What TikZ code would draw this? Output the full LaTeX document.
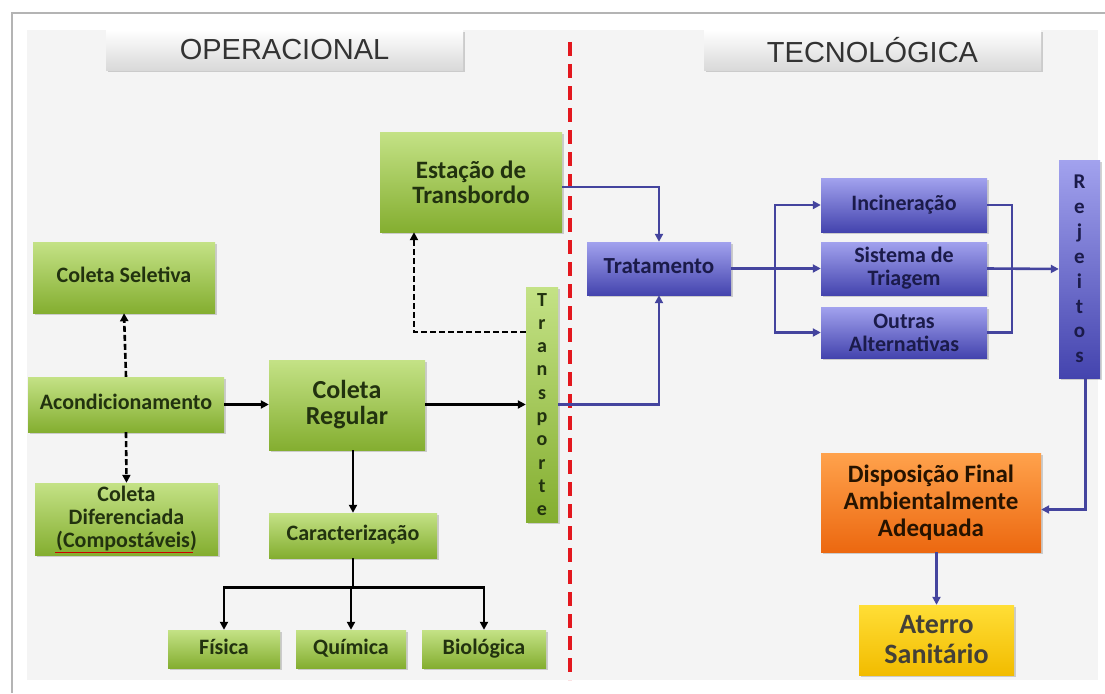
\documentclass[tikz,border=0pt]{standalone}
\usepackage{fontspec}
\setmainfont{Carlito}
\newfontfamily\headfont{Liberation Sans}
\usetikzlibrary{shadows,arrows.meta}
\definecolor{bggray}{HTML}{F4F4F4}
\definecolor{framegray}{HTML}{B4B4B4}
\definecolor{greentop}{HTML}{C4E286}
\definecolor{greenbot}{HTML}{84AE30}
\definecolor{greentxt}{HTML}{22320F}
\definecolor{bluetop}{HTML}{A2A2EE}
\definecolor{bluebot}{HTML}{4444AE}
\definecolor{bluetxt}{HTML}{1B1B4A}
\definecolor{bluelink}{HTML}{44449E}
\definecolor{orangetop}{HTML}{FFA24C}
\definecolor{orangebot}{HTML}{EC6810}
\definecolor{yellowtop}{HTML}{FFDE36}
\definecolor{yellowbot}{HTML}{F2BC00}
\definecolor{divred}{HTML}{E3171E}
\begin{document}
\begin{tikzpicture}[x=1pt,y=-1pt,
  box/.style={align=center, inner sep=0pt,
    drop shadow={opacity=.35,shadow xshift=2pt,shadow yshift=-2pt}},
  greenbox/.style={box, top color=greentop, bottom color=greenbot, text=greentxt,
    font=\bfseries\fontsize{22}{23}\selectfont},
  bluebox/.style={box, top color=bluetop, bottom color=bluebot, text=bluetxt,
    font=\bfseries\fontsize{22}{23}\selectfont},
  oneline/.style={text height=14pt, text depth=4pt},
  headbox/.style={box, top color=white, bottom color=black!15, text=black!80,
    font=\headfont\fontsize{29}{30}\selectfont},
  link/.style={line width=2.6pt, -{Triangle[length=8pt,width=8pt]}},
  blink/.style={link, bluelink},
  dlink/.style={link, dash pattern=on 6pt off 3pt}]
  \useasboundingbox (0,0) rectangle (1105,693);
  % Draw frame and background
  \fill[white] (0,0) rectangle (1105,693);
  \draw[framegray, line width=1.5pt] (12,693) -- (12,13) -- (1105,13);
  \fill[bggray] (27,30) rectangle (1098,680);
  % Draw headers
  \node[headbox, minimum width=357pt, minimum height=40pt] (oper) at (284.5,50) {OPERACIONAL};
  \node[headbox, minimum width=337pt, minimum height=40pt] (tecn) at (872.5,50) {TECNOLÓGICA};
  \draw[divred, line width=4pt, dash pattern=on 14pt off 8pt] (570,42) -- (570,680);
  % Draw green boxes
  \node[greenbox, minimum width=182pt, minimum height=100pt,
    font=\bfseries\fontsize{25}{25}\selectfont] (estacao) at (471,182) {Estação de\\Transbordo};
  \node[greenbox, oneline, minimum width=182pt, minimum height=71pt] (seletiva) at (124,277.5) {Coleta Seletiva};
  \node[greenbox, oneline, minimum width=196pt, minimum height=55pt] (acond) at (126,404.5) {Acondicionamento};
  \node[greenbox, minimum width=156pt, minimum height=90pt,
    font=\bfseries\fontsize{26}{26}\selectfont] (regular) at (347,405) {Coleta\\Regular};
  \node[greenbox, minimum width=183pt, minimum height=72pt] (difer) at (126.5,519) {Coleta\\Diferenciada\\(Compostáveis)};
  \draw[red!80!black, line width=1pt] (55,552) -- (193,552);
  \node[greenbox, oneline, minimum width=168pt, minimum height=45pt] (caract) at (353,535.5) {Caracterização};
  \node[greenbox, oneline, minimum width=112pt, minimum height=38pt] (fisica) at (224,649) {Física};
  \node[greenbox, oneline, minimum width=110pt, minimum height=38pt] (quimica) at (351,649) {Química};
  \node[greenbox, oneline, minimum width=124pt, minimum height=38pt] (biologica) at (484,649) {Biológica};
  \node[greenbox, minimum width=32pt, minimum height=235pt,
    font=\bfseries\fontsize{20}{23.3}\selectfont] (transp) at (542,404.5) {T\\r\\a\\n\\s\\p\\o\\r\\t\\e};
  % Draw blue boxes
  \node[bluebox, oneline, minimum width=144pt, minimum height=53pt,
    font=\bfseries\fontsize{23}{23}\selectfont] (tratamento) at (659,268.5) {Tratamento};
  \node[bluebox, oneline, minimum width=166pt, minimum height=54pt] (incin) at (904,205) {Incineração};
  \node[bluebox, minimum width=166pt, minimum height=53pt] (triagem) at (904,268.5) {Sistema de\\Triagem};
  \node[bluebox, minimum width=166pt, minimum height=51pt] (outras) at (904,332.5) {Outras\\Alternativas};
  \node[bluebox, minimum width=41pt, minimum height=218pt,
    font=\bfseries\fontsize{21}{24.9}\selectfont] (rejeitos) at (1079.5,269) {R\\e\\j\\e\\i\\t\\o\\s};
  % Draw final boxes
  \node[box, top color=orangetop, bottom color=orangebot, text=black!85!orange,
    font=\bfseries\fontsize{25}{27}\selectfont, minimum width=220pt, minimum height=99pt]
    (dispos) at (931,502.5) {Disposição Final\\Ambientalmente\\Adequada};
  \node[box, top color=yellowtop, bottom color=yellowbot, text=black!85!yellow,
    font=\bfseries\fontsize{28}{30}\selectfont, minimum width=155pt, minimum height=70pt]
    (aterro) at (936.5,640) {Aterro\\Sanitário};
  % Draw black links
  \draw[link] (acond) -- (regular.west |- acond);
  \draw[dlink] (acond.north) -- (seletiva.south);
  \draw[dlink] (acond.south) -- (difer.north);
  \draw[link] (regular.east |- transp.west) -- (transp.west);
  \draw[link] (regular.south -| caract.north) -- (caract.north);
  \draw[link] (caract.south) -- ++(0,29) -| (fisica.north);
  \draw[link] (caract.south) -- ++(0,29) -| (quimica.north);
  \draw[link] (caract.south) -- ++(0,29) -| (biologica.north);
  \draw[dlink] ([yshift=72.5pt]transp.west) -| ([xshift=-57pt]estacao.south);
  % Draw blue links
  \draw[blink] ([yshift=-5pt]estacao.east) -| (tratamento.north);
  \draw[blink] (transp.east) -| (tratamento.south);
  \coordinate (fork) at (775,268.5);
  \coordinate (join) at (1012,268.5);
  \draw[blink] (tratamento.east) -- (fork) |- (incin.west);
  \draw[blink] (fork) |- (outras.west);
  \draw[blink] (fork) -- (triagem.west);
  \draw[blink, -] (incin.east) -| (join) |- (outras.east);
  \draw[blink] (triagem.east) -- (rejeitos.west);
  \draw[blink] ([xshift=6pt]rejeitos.south) |- ([yshift=-7pt]dispos.east);
  \draw[blink] (aterro.north |- dispos.south) -- (aterro.north);
\end{tikzpicture}
\end{document}
